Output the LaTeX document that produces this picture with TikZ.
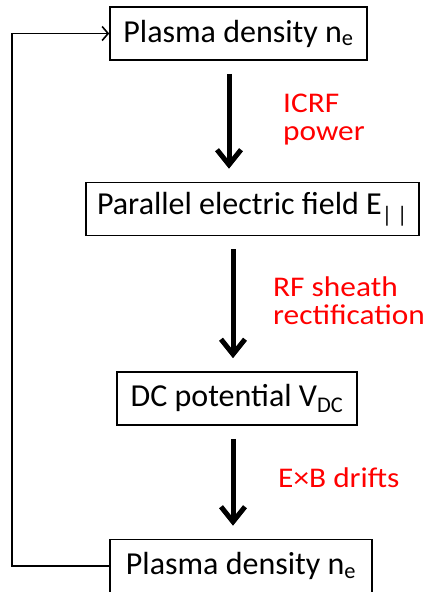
\documentclass[tikz,border=0pt]{standalone}
\usepackage{fontspec}
\setmainfont{Carlito}
\newfontfamily\lblfont[FakeStretch=1.1]{Carlito}
\usetikzlibrary{arrows.meta}
\begin{document}
\begin{tikzpicture}[x=1pt, y=-1pt,
  box/.style={draw, line width=1.6pt, minimum height=53pt, inner sep=0pt, font=\fontsize{32}{34}\selectfont},
  flow/.style={line width=5pt, -{Straight Barb[length=15pt,width=24pt]}, shorten <=13pt, shorten >=13pt},
  why/.style={text=red, align=left, anchor=base west, inner sep=0pt, font=\lblfont\fontsize{28.5}{28}\selectfont}]
\useasboundingbox (0,0) rectangle (432,592);
\node[box, minimum width=257pt] (dens) at (238.5,33.5) {Plasma density n\textsubscript{e}};
\node[box, minimum width=333pt] (efield) at (252.5,209) {Parallel electric field E\textsubscript{| |}};
\node[box, minimum width=240pt] (vdc) at (237,398.5) {DC potential V\textsubscript{DC}};
\node[box, minimum width=262pt] (dens2) at (241,566) {Plasma density n\textsubscript{e}};
\draw[flow] ([xshift=-9.5pt]dens.south) -- ([xshift=-23.5pt]efield.north);
\draw[flow] ([xshift=-19.5pt]efield.south) -- ([xshift=-4pt]vdc.north);
\draw[flow] ([xshift=-4pt]vdc.south) -- ([xshift=-8pt]dens2.north);
\node[why] (icrf) at (283,140) {ICRF\\power};
\node[why] (rf) at (273,324) {RF sheath\\rectification};
\node[why] (exb) at (278,487) {E×B drifts};
% feedback loop
\draw[line width=1.6pt, -{Straight Barb[length=6pt,width=14pt]}] (dens2.west) -- ++(-97pt,0) |- (dens.west);
\end{tikzpicture}
\end{document}
